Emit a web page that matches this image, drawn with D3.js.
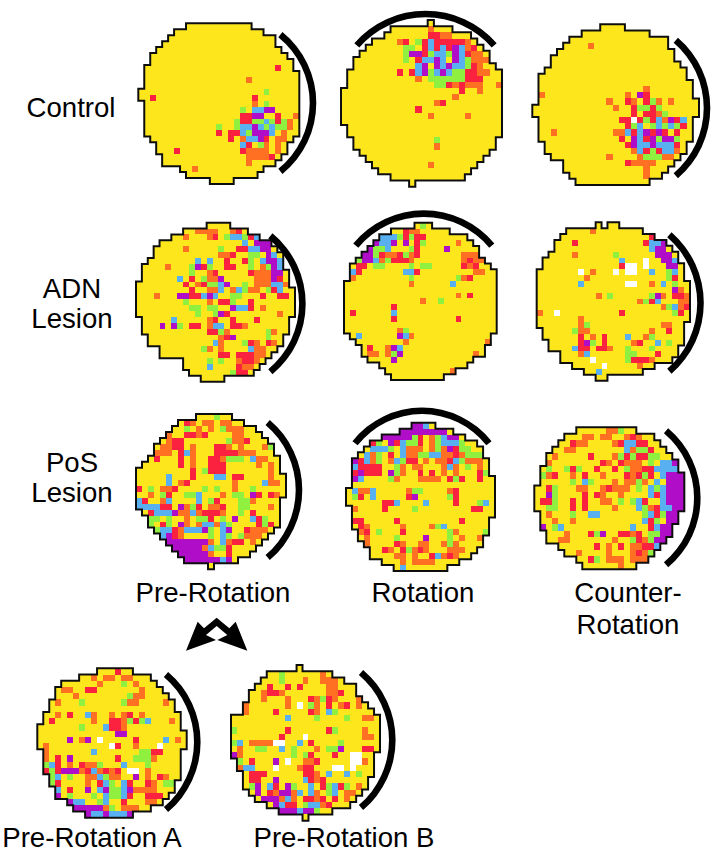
<!DOCTYPE html>
<html>
<head>
<meta charset="utf-8">
<script src="https://cdnjs.cloudflare.com/ajax/libs/d3/7.8.5/d3.min.js"></script>
<style>
html, body { margin: 0; padding: 0; background: #fff; }
svg { display: block; }
text { font-family: "Liberation Sans", Arial, sans-serif; font-size: 27.6px; fill: #000; }
</style>
</head>
<body>
<svg width="712" height="853"></svg>
<script>
// each map: first and end column per row, then the coloured cells ("row:colCode[run] ...")
const ctlPreLeft  = [8,6,5,4,3,2,2,1,1,1,1,0,0,1,1,1,1,1,1,2,3,3,4,4,7,8,12];
const ctlPreRight = [19,21,23,23,24,25,26,26,27,27,27,27,27,27,27,27,27,27,27,26,25,25,24,23,21,20,16];
const ctlPreSpots = ["7:23r","9:18o","11:21g","12:2r 19r","13:19o 21g","14:17g 19b2 21p2",
  "15:17r2 19p2 23r 26o","16:16g 17r2 19g2 21b 22g 23r 24g 25o","17:13g 16g 17b2 19p 20b 21g 22b 23g2 25o",
  "18:13r 15r2 17b 18g 19p3 22b 24o","19:15r 17o 18b2 20p 21r 23o2","20:17b 18r 20g 21o 23o",
  "21:6r 17r 18o4 23o","22:18o4 22r","23:18o","24:9o"];

const ctlRotLeft  = [14,8,7,5,4,3,2,2,1,1,1,0,0,0,0,0,0,1,1,2,2,3,4,5,6,8,11];
const ctlRotRight = [15,18,21,22,23,24,24,25,26,26,26,26,26,26,26,26,26,26,26,25,25,24,23,22,21,20,12];
const ctlRotSpots = ["1:14o","2:14r2 16o2","3:9o 10r 12g 13r 14b 15r5 20o","4:10g2 13r 14b 15r 16b 17r 18p 19b 20o 21r",
  "5:10g 11p2 13r 14g 15b 16b 17g 18p 19b 20r 21o2","6:10g 12r 13b2 15p 16b 18p 19b 20g 21o3",
  "7:12b 13p 15p 16b 17p 18b2 20g 21r 22o","8:9r 11r 12b 13p 14g 15b 16p 17b 18g2 20r2 22o 23o",
  "9:12o 14g6 20r3","10:15g2 17r 18o 19r 20o3 25o","11:19r 22o","12:18o","13:15o 16r","14:12r","15:14o 20o","19:15g","20:15o","23:14o"];

const ctlCtrLeft  = [11,8,6,5,4,3,3,2,1,1,1,1,1,0,0,1,1,1,1,2,2,3,5,5,6,7];
const ctlCtrRight = [15,19,22,22,23,23,24,25,25,26,26,26,27,27,27,26,26,26,26,25,25,24,23,22,21,19];
const ctlCtrSpots = ["3:9o","10:18o","11:1o 15o 17p 18r","12:12o 15r 16o 18r 19g 20o 22o","13:13o 16r 17g2 19r 20g",
  "14:16r 18r2 20o 21g","15:14r2 16w 17r 18g 19r 20b 21o 22p 23r 24b","16:15r 16g 17b 19g 20b 21g 22b 23g 24r",
  "17:3o 13o2 15b 16r 17b 18p 19r 20p 21r 23r","18:14r 16p 17b 18r 19p 20g 21p2 23g","19:15r 16p 17b2 19p 20b3 23r",
  "20:16o 17b 18r 19g 20r 21b2 23o","21:12o 17o 18g3 21o2","22:15r 16o4","23:18o","24:18o"];

const adnPreLeft  = [12,8,6,4,3,3,2,1,1,1,0,0,0,0,0,0,1,1,1,2,2,4,4,8,8,9,11];
const adnPreRight = [16,19,21,23,24,25,25,25,26,26,26,27,27,27,27,27,26,26,26,25,25,24,23,22,21,20,15];
const adnPreSpots = ["1:10o4 16o 17r","2:8o 12o 13r 15g 16b2 18g 19r 20b","3:18b 20p3","4:8o 14g 17r2 19b2 21p2",
  "5:14o2 16r 19g2 22p 23b","6:10b 12b 15r 18r 19g 21b 22p2 24b","7:5o 9g 10p 11r 12g 15r2 19g 21o 22g 23p 24b",
  "8:9g 12o 13r 19r 20o3 23p2","9:7b 9r 11g 12o2 14p 20o3 23p 24r","10:8r 10o 11r 12g2 14b 15p 18g 20o3 23b2 25o",
  "11:9r 12o2 14b 16o 17b 18g 19o2 22g 23r 24b","12:3o 7p2 9r2 11b 12p 13b 16g2 21r 24r2",
  "13:8g 12o 14r2 16g 19r","14:9g2 12g2 16p 17b2 19r 21o","15:10g 13g 14p 15r 24o","16:6b 12o 13r 16r 20r",
  "17:4p 6p 7g 9r2 12o 13b2 16r 17r 18o","18:12r2 14g 15o 22g 23o","19:14o 15r 16p 22g",
  "20:13b 14o 18g 19r 20o 22r 23o","21:11g 12o 14o 19b 20o2","22:14r2 17r3 20o2","23:12g 14g 17o 18r2 20o",
  "24:12b 17r 18o2","25:16g 17r2"];

const adnRotLeft  = [12,8,6,5,4,3,2,1,1,1,0,0,0,0,0,0,0,0,0,1,2,3,3,4,6,7,8];
const adnRotRight = [15,18,21,22,23,23,24,25,26,26,26,26,26,26,26,26,26,26,26,25,25,24,24,22,21,19,17];
const adnRotSpots = ["0:13g","1:10r 11o2","2:6b3 9g 10r 11g 12r2","3:5p 6b2 8p 10p 12r 13g 19o","4:4p 5g 6g 7b 11g 12r 17p",
  "5:3p2 5g 6r 7o2 9r 10g 11o 12r 20o3","6:2g 3p2 5b 6o 7g 8r3 11o 20o 21r 22o 23o","7:2r2 5g2 11g 13g2 20r 21o 22r",
  "8:1b 2r 10b2 12r 22o2","9:1o 11g 19g 20o 21r","10:11o 18b","12:19o 21r","13:13o 16g","14:8r","15:1r 8b","16:8r 19r",
  "18:9o 10g","19:2b 9p 10b 11o","20:10o 24o","21:4r 7o 8p 9b","22:4o2 7o 8g 9p 22o","23:8p","25:18o"];

const adnCtrLeft  = [10,5,4,3,3,2,1,1,0,0,0,0,0,0,0,0,0,0,1,1,2,2,4,4,6,8,10];
const adnCtrRight = [14,18,20,22,23,24,24,25,25,25,26,26,26,26,26,26,26,25,25,25,25,24,24,23,20,18,12];
const adnCtrSpots = ["0:11n","1:9o","2:19r","3:6r 18r 19b2 21p","4:19b 20p2","5:6o 13g 20p3","6:14b 18w 21p2 23b",
  "7:14r 15w2 18w 22p2","8:7w 9o 13w 15w2 19b 22g 23b","9:8o 22g 23r","10:7b 15w2 19o 21b 23g","11:23p 24o",
  "12:10o 12g 19g 20p 21o 23r2 25o","13:17o 18g 19r 20b 24o2","14:21o 22g 23b 24o 25r","15:0o 3w 14r 23g 24r",
  "16:7o","17:7o 8g 21o2","18:6g 7o2 19o 22r","19:7r 9o 11r 15b 18o 19g","20:7r 8p 9g 11r 16o 17r 20b 22g",
  "21:6b 7r2 10r2 12o 15g 19g","22:7o 8b 15g2 20r","23:9w 15g 16r3 19o","24:11w 17o","25:10b"];

const posPreLeft  = [10,7,6,5,4,3,3,2,1,0,0,0,0,0,0,0,1,2,2,3,4,5,6,7,8,12];
const posPreRight = [16,18,20,21,22,23,23,24,24,24,25,25,25,25,24,24,24,24,24,23,22,21,20,19,17,13];
const posPreSpots = ["0:13g","1:8r 9o 11o2 14o2","2:8g 10o 12o 14g 15o3","3:5o 8r2 10o 11r 16o2","4:5o 6r2 15g 16o2 18r",
  "5:4o2 6r2 9o 13r2 15o 17o 21o 22g","6:3o3 7r 8b 9o 13r2 15r2 17o3","7:3r 7r 9o 12r2 14o 15g3 19b 20o2",
  "8:7r 9o 12r3 20o 22o","9:9r 11g 12r3 22o","10:5b 9r 13b2 16r2 22o","11:5b 7o 8r 16o 21b 22o2",
  "12:0r 2g 4o2 6r 11g 13g 16o 19g","13:2o 4g 5r 8g2 10b 14o 16g 17g 19p 20r 22r 23o",
  "14:0b 1r 4o 5b 10b 12g 13r 17g2 19o","15:0b 1b3 4r2 7p 8o 9g 10r 12o2 14r 17g2 22o",
  "16:2r 3b3 6p 7o2 9b 10o 11r3 14o 17g 19r","17:2g 3g 5g 8o 10g2 12r 14g 16r 16p 19b 20r 21g",
  "18:2g 4r 5g 7p 8o 10o 11b2 13o 14b 15g 20r 21g 22r","19:3g 4b2 6r 7o 8b3 11p 12g 14b 15p 18r2 19o3",
  "20:4b 5p 6r 7o 12g 14b 15g 17g 18o 19o2","21:5p7 12o 14b 15o 16r2 19o","22:6p5 11o 12b 13g2 15r","23:7p5 12o 15r",
  "24:8p6 14b 15p"];

const posRotLeft  = [11,9,6,4,3,2,1,1,1,1,1,0,0,0,1,1,1,1,2,2,3,4,4,6,8];
const posRotRight = [15,18,20,22,23,23,24,24,24,25,25,25,25,25,25,25,24,24,24,23,23,22,21,19,17];
const posRotSpots = ["0:11p2 13b 14y","1:9p8 17y","2:6p5 11g 12r 14o 15g 16b 17p2","3:4r 5g 7p 8r 9b 10g2 12r 14o 15g 16b3 19g",
  "4:4b3 7g 9b 10o3 14o 15g 16o 17p 18r 19g2","5:3b 4o 5g 7r 9b 10o2 12g2 14b2 16o 17o 18r 19o 20g3",
  "6:1p 2r 3b 4o 5g 7o 8b 9g 10r2 13o 15o3 17r 18b 19g 20o3","7:1b 2r4 8g 9o 11o2 16o 17b 18o 20g 22o",
  "8:1r 2p 3r3 7p 8g 9o 12r 14r 16o 18o 22r 23g","9:1p 2b 7g 8o 12o4 17r 18g 19r 22r","11:1b 2o2 4b 10o 11g2 17o 18r",
  "12:1g 2r 4b 10r 11p 17g 18r","13:6r2 8b 13b 18r 22g 23b","14:1o 6r 11g 21r2","16:1r2 8r 19r","17:2r 3o 9o 14o 15g 16b",
  "18:2o 3r 5g 9r 17g 18o 23g","19:3o 8g 13p 17g 19o 22o","20:3o 8r 9o 12o 13o 16o 17g 18o","21:6r 7o 9r 10g 11o 12r 13o 17o3",
  "22:8o2 11o 14r 15b 16o 17r 18o","23:9o 11o4","24:9b"];

const posCtrLeft  = [7,5,4,3,2,2,1,1,1,0,0,0,0,1,1,1,2,2,4,5,7,8];
const posCtrRight = [17,20,21,22,23,24,24,25,25,25,25,25,25,24,24,23,23,22,21,20,19,17];
const posCtrSpots = ["0:12o2 14g","1:8o2 11o2 15o 16r 17o","2:6r 7o2 13o 14r 15b2 17r2","3:5o2 15b 16o 17g2 19r",
  "4:3o 9r 13o 14g 15r 16g 17r2 19g2","5:2o 11r 12o 14r 15o3 19g 21b2 23p","6:2g 5g 6r 7g 10r 13r 15g 16o2 18r2 20b4",
  "7:1g 2o 3r 6o 8r 11o 15r 16o 17r 18g 19r 21b2 22p3","8:6g 8b 9g 13o 15o2 17g 18o 20b 22p3",
  "9:2r 3g 7o2 11o 12r 13o3 17g 19b 20g 21b 22p3","10:2p 3g 8r 10r 11o 14o 19b 20r 21b 22p3",
  "11:1r2 3g 6r 8r 11o2 14g 16g 17b 18r 21b 22p3","12:2g2 6r 8r 13o 17b 18g 19o 20r 21b2 23p2",
  "13:2o 6g 9b2 18g 19b 20r 21g 22p3","14:3o 6o 18b 19r 20g 22p3","15:1p 3g 4b 16b 19r 20b 21p3",
  "16:5o 9r 10g 11p 14r2 16o 17r 19g2 21p2","17:4o2 13o 16g 17r 18o 19g 20p2","18:10r 12o 14r 16o2 18r2 20b",
  "19:7o 12o 16o 17r 18o 19g","20:9r 10g 12o3 16o3","21:14o"];

const preALeft  = [10,7,4,3,3,2,2,1,1,0,0,0,0,1,1,1,1,2,2,3,3,5,6,8];
const preARight = [16,19,20,21,22,23,23,24,24,24,25,25,25,24,24,24,24,24,23,23,22,21,19,16];
const preASpots = ["0:13r","1:9o 11o2 14o2","2:10o 14g 16o","3:4o2 8r2 17o","4:6o 15g 16o2","5:3o 7g 14g 15o2 21o",
  "7:3o 5r 8b 9o 12o 14o 15r 17o","8:2r 9o 12r2 14o 15g 16r 17g 18b 22o","9:7g 11b 12r2 14o","10:13p2",
  "11:5p 7o 8p 10w 16r 21b 23o","12:1o 12w 13r 16o 20w","13:1o 9b 17g 18g 19r2","14:1o 3r 5p 13r 16g3 19o",
  "15:1g 2b 3r 5o 7r 8o2 10g 14b 18g","16:1r 2g 3r 4p3 7o 8r 9b 10o 11r 12o 13r 15w2 18o",
  "17:2g 3b 5g 8o 9o 10b 11g 12o 13o 16p 18o 20r 21o","18:2g 3r 8o 10r 11b 12g 14b 15r 18r 19o 21g2",
  "19:3b 5r 8p 10b 11p 12g2 14b 15p 16o 17o 18o 19o","20:3p 5g 9g 11b 12g2 14b 15r 18r3",
  "21:5p 6b2 10g 11b 14r 18o2","22:5p6 11o 12g 14o 15o2","23:8p 9b2 11p 12b3 15p"];

const preBLeft  = [11,6,5,4,3,3,2,2,0,0,0,0,0,0,0,1,1,2,2,2,3,4,6,8,12];
const preBRight = [12,17,19,21,21,22,23,24,25,25,25,25,25,25,24,24,24,24,23,23,22,21,20,17,13];
const preBSpots = ["1:8g 15o","2:8g 12o 15o3","3:6r 9r 11r 16o2","4:5o 6r2 8o 16o2 18r",
  "5:5o 9o 13r 14o 15g 16r 17o 21o 22b","6:2o 9o 11w 13g 14o 16r 18o 19r 21o","7:2o 7r 13r 14o 16b 17g","8:9b 14g 19g 22o2",
  "10:0g 9r 16r 17g 22o","11:8r 12w 22o2","12:0g 1b 3o4 7w2 11b 13r 18g","13:1o 4g2 8b 10g 14o 16g2 18p 22r 23r",
  "14:0p 1o 10g 12g 13r 17r 20w2","15:1g 3r 7p 9w 12o2 14r 20w2 22o","16:1o 2b2 7w 11o 12r2 17w2 20w",
  "17:1o 3r3 12r2 14o 16b 19b 21g","18:3r2 7p 12b 13r 14o 15r","19:3g 4p 6b 7r 9p 10g 13b 15r 16g 17b 18r 19g 21o",
  "20:4p 6r 7o 8p2 10o 11b 13b 14o 16g 17b 19o2","21:5p3 8o 9b 10o 12r 13r 14o 15r 17r 19o",
  "22:7p 8b 9r2 12g 13b2 15o 16r","23:8p3 11b 12p2 14g"];

const colorCodes = ["y","o","r","p","b","g","w"];
const colorValues = ["#fde71f","#ff7020","#fb2040","#b010c8","#58b0f0","#90f040","#ffffff"];

const rowLabels = ["Control","ADN","Lesion","PoS","Lesion"];
const columnLabels = ["Pre-Rotation","Rotation","Counter-","Rotation","Pre-Rotation A","Pre-Rotation B"];

const arrowShapeX = [168,203,222,260,298,317,352,262,292,260,228,258];
const arrowShapeY = [212,125,145,113,145,125,212,180,165,138,165,180];

// where each map goes on the page: box, then the arc beside it (cx, cy, r, middle angle, half angle)
const maps = [
  { left: ctlPreLeft, right: ctlPreRight, spots: ctlPreSpots, box: [138.3, 23.3, 299.3, 184], arc: [225, 103, 88, 90, 51] },
  { left: ctlRotLeft, right: ctlRotRight, spots: ctlRotSpots, box: [341, 20, 502, 186.7], arc: [425.5, 105, 91, 0, 49] },
  { left: ctlCtrLeft, right: ctlCtrRight, spots: ctlCtrSpots, box: [532.3, 24.3, 699, 185], arc: [618, 108, 89, 90, 49.5] },
  { left: adnPreLeft, right: adnPreRight, spots: adnPreSpots, box: [136, 222.7, 295, 381.7], arc: [214.4, 303.8, 88, 90, 50.5] },
  { left: adnRotLeft, right: adnRotRight, spots: adnRotSpots, box: [344, 222.7, 496.7, 380], arc: [423.8, 302, 88.4, 0, 50.3] },
  { left: adnCtrLeft, right: adnCtrRight, spots: adnCtrSpots, box: [536.7, 222.3, 690, 380.7], arc: [610, 303, 90.5, 90, 49] },
  { left: posPreLeft, right: posPreRight, spots: posPreSpots, box: [136, 414, 286, 569.3], arc: [210.6, 490, 88.4, 90, 49.8] },
  { left: posRotLeft, right: posRotRight, spots: posRotSpots, box: [346, 422.7, 495, 571], arc: [422, 496, 85.2, 0, 51.8] },
  { left: posCtrLeft, right: posCtrRight, spots: posCtrSpots, box: [534.3, 427.3, 684.3, 569.3], arc: [609.8, 497.8, 87.5, 90, 50] },
  { left: preALeft, right: preARight, spots: preASpots, box: [37.3, 668.3, 186.7, 817.7], arc: [108.7, 742, 88.6, 90, 49.7] },
  { left: preBLeft, right: preBRight, spots: preBSpots, box: [231, 665, 380, 820.7], arc: [303.7, 740, 88.6, 90, 49.7] }
];

const labelSpots = [
  { text: rowLabels[0], x: 71, y: 117 },
  { text: rowLabels[1], x: 72, y: 298 },
  { text: rowLabels[2], x: 72, y: 328 },
  { text: rowLabels[3], x: 72, y: 472 },
  { text: rowLabels[4], x: 72, y: 502 },
  { text: columnLabels[0], x: 213, y: 602 },
  { text: columnLabels[1], x: 423, y: 602 },
  { text: columnLabels[2], x: 628, y: 602 },
  { text: columnLabels[3], x: 628, y: 634 },
  { text: columnLabels[4], x: 92, y: 847 },
  { text: columnLabels[5], x: 344, y: 847 }
];

const svg = d3.select("svg");
const color = d3.scaleOrdinal().domain(colorCodes).range(colorValues);

// the scan is slightly soft, so the maps get a very small blur
svg.append("defs").append("filter").attr("id", "soft")
  .append("feGaussianBlur").attr("stdDeviation", 0.4);

function drawMap(m) {
  const rows = m.left.length;
  const cols = d3.max(m.right);
  const x = d3.scaleLinear().domain([0, cols]).range([m.box[0], m.box[2]]);
  const y = d3.scaleLinear().domain([0, rows]).range([m.box[1], m.box[3]]);

  // start all yellow inside the outline, then lay the coloured cells over it
  const grid = m.left.map((l, r) => d3.range(cols).map(c => (c >= l && c < m.right[r]) ? "y" : null));
  m.spots.forEach(line => {
    const [row, specs] = line.split(":");
    specs.split(" ").forEach(s => {
      const hit = s.match(/^(\d+)([a-z])(\d*)$/);
      const run = hit[3] ? +hit[3] : 1;
      for (let i = 0; i < run; i++) {
        const c = +hit[1] + i;
        if (grid[+row][c] !== null) grid[+row][c] = hit[2] === "n" ? null : hit[2];
      }
    });
  });

  const cells = [];
  grid.forEach((line, r) => line.forEach((code, c) => { if (code) cells.push({ r, c, code }); }));

  const g = svg.append("g").attr("filter", "url(#soft)");
  g.selectAll("rect")
    .data(cells)
    .enter()
    .append("rect")
    .attr("x", d => x(d.c))
    .attr("y", d => y(d.r))
    .attr("width", d => x(d.c + 1) - x(d.c))
    .attr("height", d => y(d.r + 1) - y(d.r))
    .attr("shape-rendering", "crispEdges")
    .style("fill", d => color(d.code));

  // outline: every cell edge that has nothing on the other side
  const filled = (r, c) => r >= 0 && r < rows && c >= 0 && c < cols && grid[r][c] !== null;
  const edges = [];
  cells.forEach(d => {
    if (!filled(d.r - 1, d.c)) edges.push([d.c, d.r, d.c + 1, d.r]);
    if (!filled(d.r + 1, d.c)) edges.push([d.c, d.r + 1, d.c + 1, d.r + 1]);
    if (!filled(d.r, d.c - 1)) edges.push([d.c, d.r, d.c, d.r + 1]);
    if (!filled(d.r, d.c + 1)) edges.push([d.c + 1, d.r, d.c + 1, d.r + 1]);
  });
  g.append("path")
    .attr("d", edges.map(e => `M${x(e[0])},${y(e[1])}L${x(e[2])},${y(e[3])}`).join(""))
    .attr("fill", "none")
    .attr("stroke", "#111")
    .attr("stroke-width", 2)
    .attr("stroke-linecap", "square");

  const [cx, cy, r, mid, half] = m.arc;
  const toRad = Math.PI / 180;
  svg.append("path")
    .attr("transform", `translate(${cx},${cy})`)
    .attr("d", d3.arc()({
      innerRadius: r - 3.3,
      outerRadius: r + 3.3,
      startAngle: (mid - half) * toRad,
      endAngle: (mid + half) * toRad
    }))
    .attr("fill", "#000");
}

maps.forEach(drawMap);

svg.selectAll("text.lab")
  .data(labelSpots)
  .enter()
  .append("text")
  .attr("class", "lab")
  .attr("x", d => d.x)
  .attr("y", d => d.y)
  .attr("text-anchor", "middle")
  .text(d => d.text);

// the double arrow under Pre-Rotation
const ax = d3.scaleLinear().domain([0, 3]).range([130, 131]);
const ay = d3.scaleLinear().domain([0, 3]).range([580, 581]);
svg.append("path")
  .attr("d", d3.line().x(d => ax(d[0])).y(d => ay(d[1]))(d3.zip(arrowShapeX, arrowShapeY)) + "Z")
  .attr("fill", "#000");
</script>
</body>
</html>
